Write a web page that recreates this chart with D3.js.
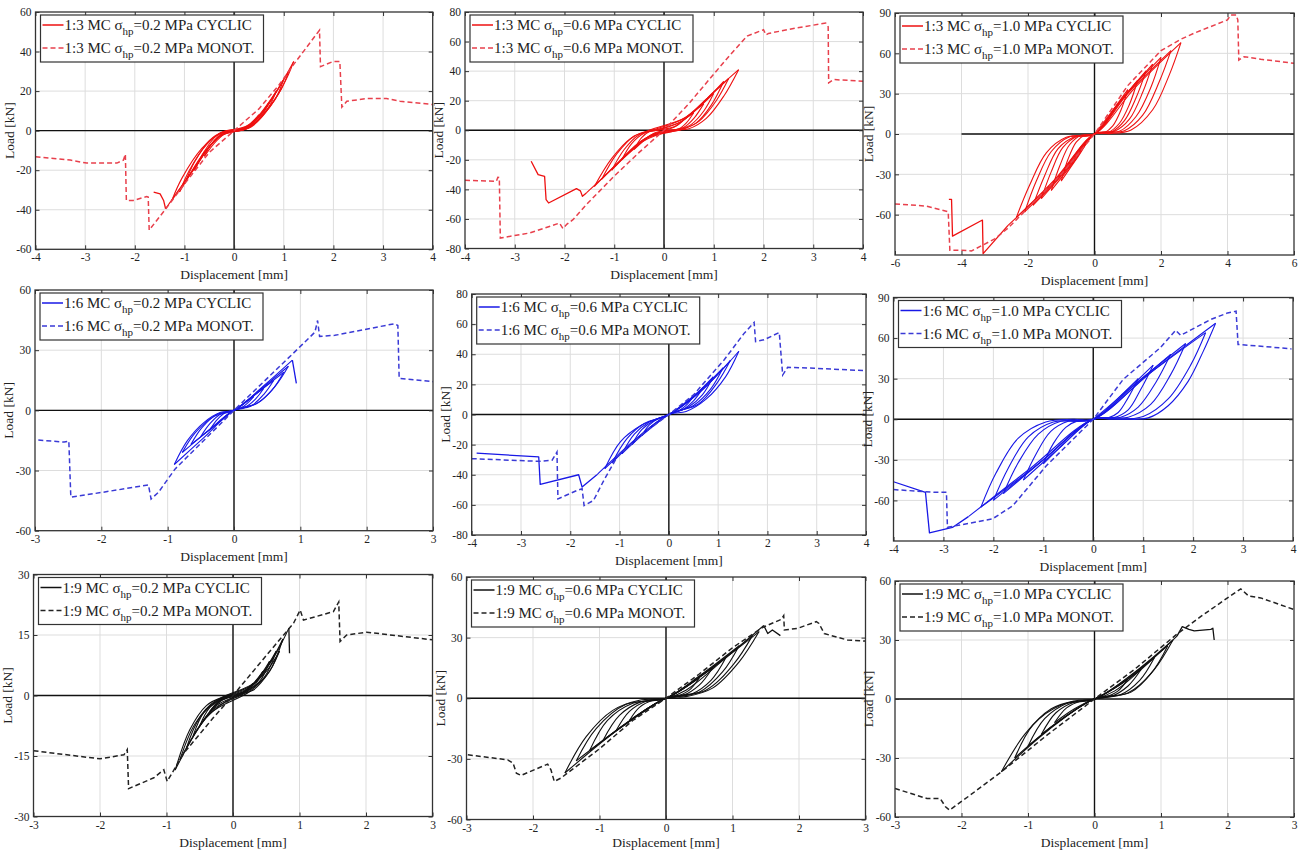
<!DOCTYPE html>
<html>
<head>
<meta charset="utf-8">
<script src="https://cdn.jsdelivr.net/npm/d3@7"></script>
<style>
  body { margin: 0; background: #fff; }
  svg { display: block; }
  text { font-family: "Liberation Serif", "Times New Roman", serif; fill: #222; }
</style>
</head>
<body>
<svg id="fig" width="1303" height="850"></svg>
<script>
// ---------------- Tick values ----------------
const ticksX4 = [-4, -3, -2, -1, 0, 1, 2, 3, 4];
const ticksX6 = [-6, -4, -2, 0, 2, 4, 6];
const ticksX3 = [-3, -2, -1, 0, 1, 2, 3];
const ticksY60by20 = [-60, -40, -20, 0, 20, 40, 60];
const ticksY80by20 = [-80, -60, -40, -20, 0, 20, 40, 60, 80];
const ticksY90by30 = [-60, -30, 0, 30, 60, 90];
const ticksY60by30 = [-60, -30, 0, 30, 60];
const ticksY30by15 = [-30, -15, 0, 15, 30];

// ---------------- Series: load [kN] vs displacement [mm] ----------------
// 1:3 masonry, 0.2 MPa
const cyc13_02 = [
  [0,0],[0.15,0.8],[0.3,3],[0.5,8],[0.4,4.5],[0.25,1.2],[0.1,0.2],[-0.15,-1],[-0.35,-5],[-0.6,-13],[-0.45,-6.5],[-0.25,-1.5],[-0.05,0],
  [0.2,1],[0.45,5.5],[0.7,14],[0.55,7.5],[0.35,2.5],[0.15,0.3],[-0.2,-1.2],[-0.5,-8],[-0.8,-20],[-0.6,-10.5],[-0.35,-2.5],[-0.1,0],
  [0.2,1],[0.5,7],[0.85,20],[0.7,12],[0.45,4.5],[0.2,0.6],[-0.2,-1.5],[-0.6,-11],[-1.0,-27],[-0.8,-16],[-0.5,-5],[-0.2,-0.3],
  [0.25,1.5],[0.6,10],[1.0,26],[0.85,17],[0.55,7],[0.25,1],[-0.25,-2],[-0.7,-15],[-1.1,-31],[-0.9,-20],[-0.55,-7],[-0.25,-1],
  [0.3,2.5],[0.7,14],[1.1,30],[0.95,21],[0.65,10],[0.3,1.5],[-0.3,-3],[-0.8,-19],[-1.25,-35],[-1.05,-24],[-0.65,-9],[-0.3,-1.5],
  [0.3,3],[0.8,18],[1.2,35],[1.05,26],[0.75,13],[0.35,2],[-0.3,-3],[-0.85,-21],[-1.38,-39.5]
];
const cyc13_02Post = [[-1.38,-39.5],[-1.42,-35.3],[-1.49,-32],[-1.62,-31.1]];
const mono13_02 = [
  [-4,-13.2],[-3.3,-14.9],[-2.97,-16.4],[-2.36,-16.4],[-2.23,-14.9],[-2.19,-11.9],[-2.17,-35.3],[-2.03,-35.3],
  [-1.76,-33.3],[-1.73,-33.6],[-1.71,-50.3],[-1.36,-39],[-1.0,-27],[-0.5,-11],[0,0],[0.5,11],[0.9,23],[1.23,34.5],
  [1.72,50.8],[1.74,32.4],[2.0,35],[2.13,35],[2.17,11.9],[2.27,14.9],[2.67,16.2],[3.07,16.2],[3.34,14.9],[4,13.2]
];

// 1:3 masonry, 0.6 MPa
const cyc13_06 = [
  [0,0],[0.2,2],[0.4,7],[0.6,12],[0.45,5],[0.3,1],[0.1,0],[-0.2,-2],[-0.4,-7],[-0.6,-13],[-0.45,-5],[-0.3,-1],[-0.1,0],
  [0.25,3],[0.5,10],[0.8,18],[0.6,8],[0.4,2],[0.15,0],[-0.25,-3],[-0.55,-11],[-0.85,-20],[-0.65,-9],[-0.4,-2],[-0.15,0],
  [0.3,5],[0.65,14],[1.0,25],[0.8,13],[0.55,4],[0.3,0.5],[-0.3,-4],[-0.7,-15],[-1.05,-27],[-0.8,-13],[-0.5,-3],[-0.2,0],
  [0.35,6],[0.8,19],[1.2,33],[0.95,17],[0.65,5],[0.35,0.5],[-0.35,-5],[-0.8,-18],[-1.25,-33],[-0.95,-16],[-0.6,-4],[-0.25,0],
  [0.4,8],[0.85,21],[1.3,35],[1.05,20],[0.7,6],[0.4,1],[-0.4,-6],[-0.9,-21],[-1.4,-38],[-1.05,-19],[-0.65,-5],[-0.3,0],
  [0.45,9],[1.0,26],[1.5,41],[1.2,23],[0.85,8],[0.5,1],[0.2,0],[-0.45,-8],[-1.0,-25],[-1.56,-42.4]
];
const cyc13_06Post = [[-1.56,-42.4],[-1.64,-44.7],[-1.68,-41],[-1.76,-39.5],[-2.32,-49.2],[-2.37,-47],[-2.4,-31.2],[-2.53,-30],[-2.67,-21]];
const mono13_06 = [
  [-4,-33.9],[-3.37,-34.5],[-3.34,-31.8],[-3.31,-32],[-3.29,-72.9],[-2.7,-69.5],[-2.1,-62.8],[-2.03,-66.5],[-1.95,-63.5],
  [-1.83,-60.5],[-1.56,-50.3],[-1.0,-31],[-0.5,-15],[0,0],[0.5,18],[1.0,38],[1.33,51],[1.67,63.7],[2.0,68],[2.05,64.5],
  [2.1,65.5],[2.68,69.3],[3.25,72.5],[3.3,70],[3.31,32],[3.41,34.3],[4,33.2]
];

// 1:3 masonry, 1.0 MPa
const cyc13_10 = [
  [0,0],[0.5,16],[1.0,33],[0.8,18],[0.55,6],[0.3,1],[0,0],[-0.5,-17],[-1.0,-35],[-0.8,-19],[-0.55,-6],[-0.3,-1],[0,0],
  [0.6,19],[1.3,40],[1.05,22],[0.75,8],[0.4,1],[0,0],[-0.6,-20],[-1.3,-42],[-1.05,-24],[-0.75,-8],[-0.4,-1],[0,0],
  [0.7,22],[1.55,47],[1.25,27],[0.9,10],[0.5,1.5],[0,0],[-0.75,-24],[-1.6,-48],[-1.3,-28],[-0.95,-10],[-0.5,-1.5],[0,0],
  [0.8,25],[1.75,52],[1.45,31],[1.05,11],[0.6,2],[0,0],[-0.9,-28],[-1.85,-53],[-1.5,-31],[-1.1,-11],[-0.6,-2],[0,0],
  [0.9,28],[2.0,57],[1.7,35],[1.25,13],[0.75,2],[0,0],[-1.0,-30],[-2.1,-58],[-1.75,-35],[-1.3,-13],[-0.75,-2],[0,0],
  [1.0,30],[2.3,62],[1.95,39],[1.45,14],[0.9,2.5],[0,0],[-1.1,-32],[-2.35,-62],[-1.95,-38],[-1.45,-14],[-0.85,-2.5],[0,0],
  [1.2,34],[2.6,68],[2.25,44],[1.75,18],[1.1,3],[0.45,0.3],[0,0],[-1.2,-34],[-2.6,-68]
];
const cyc13_10Post = [[-2.6,-68],[-3.35,-89],[-3.37,-64],[-4.27,-76],[-4.3,-48.6],[-4.38,-48.6]];
const mono13_10 = [
  [-6,-52],[-5.06,-53.6],[-4.4,-57.8],[-4.35,-86.4],[-4.05,-86.4],[-3.7,-87],[-3.0,-78],[-2.6,-70],[-2.0,-55],[-1.0,-30],
  [0,0],[1.0,36],[2.0,62],[2.6,70.5],[3.0,75],[4.0,84.9],[4.1,88.6],[4.26,88.6],[4.31,84.9],[4.34,55],[4.5,57.5],[5.0,55.6],[6,52.6]
];

// 1:6 masonry, 0.2 MPa
const cyc16_02 = [
  [0,0],[0.15,3.5],[0.3,7],[0.2,3.5],[0.1,1],[0,0],[-0.17,-4.5],[-0.35,-9],[-0.25,-4.5],[-0.12,-1],[0,0],
  [0.22,5.5],[0.45,11],[0.32,5.5],[0.15,1.2],[0,0],[-0.25,-6.5],[-0.5,-13],[-0.36,-6.5],[-0.18,-1.5],[0,0],
  [0.3,7.5],[0.6,15],[0.45,8],[0.25,2],[0,0],[-0.32,-8.5],[-0.65,-17],[-0.48,-8.5],[-0.25,-2],[0,0],
  [0.38,9.5],[0.75,19],[0.57,10],[0.32,3],[0,0],[-0.4,-10.5],[-0.78,-21],[-0.58,-11],[-0.3,-3],[0,0],
  [0.42,11],[0.82,22],[0.62,12],[0.35,3.5],[0,0],[-0.45,-13.5],[-0.9,-27],[-0.7,-15],[-0.45,-6],[-0.2,-1],[0,0],[0.44,12],[0.88,25]
];
const cyc16_02Post = [[0.88,25],[0.94,13.5]];
const mono16_02 = [
  [-2.95,-14.8],[-2.56,-15.8],[-2.49,-15.3],[-2.46,-43.3],[-1.99,-40.9],[-1.29,-37.2],[-1.25,-44.2],[-1.14,-40.9],
  [-0.89,-29.3],[0,0],[1.02,32.5],[1.22,39],[1.26,44.8],[1.29,36.9],[1.52,37.4],[2.42,43.2],[2.47,42.3],[2.49,16],[3,14.3]
];

// 1:6 masonry, 0.6 MPa
const cyc16_06 = [
  [0,0],[0.25,5],[0.5,12],[0.35,6],[0.2,2.5],[0,0],[-0.25,-6],[-0.55,-14],[-0.4,-7],[-0.2,-2.5],[0,0],
  [0.3,7],[0.7,18],[0.5,9],[0.3,3.5],[0,0],[-0.35,-8],[-0.75,-20],[-0.55,-10],[-0.3,-4],[0,0],
  [0.4,9],[0.9,25],[0.68,13],[0.4,5],[0,0],[-0.45,-11],[-0.95,-26],[-0.7,-13],[-0.4,-5],[0,0],
  [0.5,12],[1.1,31],[0.85,17],[0.5,6],[0,0],[-0.55,-13],[-1.15,-32],[-0.85,-16],[-0.5,-6],[0,0],
  [0.6,14],[1.25,36],[0.98,21],[0.6,7],[0,0],[-0.6,-15],[-1.3,-36],[-0.98,-18],[-0.55,-7],[0,0],
  [0.7,17],[1.42,42],[1.15,25],[0.75,10],[0.35,2],[0,0],[-0.7,-17],[-1.46,-40]
];
const cyc16_06Post = [[-1.46,-40],[-1.76,-48.2],[-1.83,-40],[-2.61,-46.4],[-2.64,-28.2],[-3.9,-25.6]];
const mono16_06 = [
  [-4,-29.3],[-2.64,-31.1],[-2.37,-30.4],[-2.27,-24.9],[-2.25,-56],[-1.86,-50.4],[-1.76,-49.3],[-1.72,-60.4],[-1.53,-57.1],
  [-1.32,-43.8],[-1.05,-28.2],[-0.5,-12],[0,0],[0.5,13],[1.12,36.2],[1.53,54],[1.73,61.1],[1.76,48.4],[1.93,49.6],
  [2.24,54.4],[2.31,26.2],[2.41,31.3],[2.95,30.7],[4,29.1]
];

// 1:6 masonry, 1.0 MPa
const cyc16_10 = [
  [0,0],[0.45,14],[0.9,30],[0.7,16],[0.5,5],[0.3,1],[0,0],[-0.5,-15],[-1.0,-33],[-0.8,-18],[-0.55,-6],[-0.3,-1],[0,0],
  [0.6,19],[1.2,40],[0.95,22],[0.7,7],[0.4,1],[0,0],[-0.7,-22],[-1.4,-45],[-1.15,-26],[-0.85,-9],[-0.5,-1.5],[0,0],
  [0.75,23],[1.55,48],[1.25,27],[0.9,9],[0.55,1.5],[0,0],[-0.9,-27],[-1.8,-55],[-1.5,-32],[-1.1,-11],[-0.65,-1.5],[0,0],
  [0.9,28],[1.85,56],[1.55,33],[1.15,11],[0.7,1.5],[0,0],[-1.0,-30],[-2.0,-60],[-1.7,-36],[-1.3,-13],[-0.8,-2],[0,0],
  [1.1,33],[2.25,64],[1.95,40],[1.5,15],[1.0,2],[0.4,0],[0,0],[-1.1,-33],[-2.25,-65],[-1.95,-40],[-1.5,-14],[-0.95,-2],[-0.4,0],[0,0],
  [1.2,36],[2.45,71],[2.2,50],[1.9,28],[1.5,10],[1.1,1],[0.6,0],[0,0],[-1.25,-36],[-2.5,-72]
];
const cyc16_10Post = [[-2.5,-72],[-2.82,-80],[-3.28,-84],[-3.36,-54],[-4,-46.2]];
const mono16_10 = [
  [-4,-52],[-3.16,-54],[-2.94,-54],[-2.92,-79.9],[-2.02,-73.7],[-1.61,-63.9],[-0.94,-34.4],[0,0],[0.6,29.5],[1.34,52.8],
  [1.65,65.8],[1.75,62],[2.35,73.7],[2.69,78.6],[2.86,79.9],[2.9,55.3],[3.36,54],[3.97,52]
];

// 1:9 masonry, 0.2 MPa
const cyc19_02 = [
  [0,0],[0.15,0.8],[0.3,3],[0.2,1.2],[0.05,0.1],[-0.15,-1],[-0.35,-4],[-0.22,-1.5],[-0.05,-0.1],
  [0.2,1.3],[0.45,6],[0.32,2.5],[0.1,0.3],[-0.2,-1.5],[-0.5,-7.5],[-0.35,-3],[-0.1,-0.3],
  [0.25,2],[0.55,8.5],[0.4,3.5],[0.15,0.5],[-0.25,-2.5],[-0.6,-10],[-0.43,-4],[-0.15,-0.5],
  [0.3,2.8],[0.65,11],[0.47,4.5],[0.2,0.8],[-0.3,-3.5],[-0.7,-13],[-0.5,-5.5],[-0.2,-0.8],
  [0.35,3.5],[0.75,14],[0.55,6],[0.25,1],[-0.35,-4.5],[-0.8,-16],[-0.57,-7],[-0.25,-1.2],
  [0.1,0.3],[0.5,6],[0.7,11],[0.55,6],[0.3,1.3],[0.05,0],[-0.4,-5.5],[-0.87,-18.5],[-0.65,-8.5],[-0.4,-2.5],[-0.15,-0.4],
  [0.1,0.3],[0.4,4.5],[0.65,10.5],[0.84,16.7]
];
const cyc19_02Post = [[0.84,16.7],[0.85,10.5]];
const mono19_02 = [
  [-3,-13.7],[-2.5,-14.7],[-2.0,-15.7],[-1.64,-14.7],[-1.59,-13.4],[-1.57,-23.1],[-1.19,-20.4],[-1.04,-18.4],[-0.99,-21.3],
  [-0.74,-14.3],[-0.3,-5.6],[0,0],[0.51,10.1],[0.91,17.9],[1.01,21.2],[1.06,18.7],[1.51,20.8],[1.59,23.2],[1.61,13.4],
  [1.71,15],[2.01,15.7],[3,13.8]
];

// 1:9 masonry, 0.6 MPa
const cyc19_06 = [
  [0,0],[0.25,4.5],[0.5,10],[0.35,4],[0.15,0.8],[0,0],[-0.25,-4.5],[-0.55,-11],[-0.4,-4.5],[-0.2,-1],[0,0],
  [0.3,6],[0.7,15],[0.5,6.5],[0.25,1.3],[0,0],[-0.3,-6],[-0.75,-16],[-0.55,-6.5],[-0.28,-1.2],[0,0],
  [0.4,8],[0.9,20],[0.68,9],[0.38,2],[0,0],[-0.4,-8],[-0.95,-21],[-0.7,-8.5],[-0.38,-1.8],[0,0],
  [0.5,11],[1.1,26],[0.85,13],[0.5,3],[0,0],[-0.5,-10],[-1.15,-26],[-0.88,-11],[-0.5,-2.5],[0,0],
  [0.6,13],[1.3,31],[1.02,17],[0.6,4],[0,0],[-0.6,-12.5],[-1.35,-31],[-1.05,-15],[-0.6,-3],[0,0],
  [0.65,14],[1.4,33],[1.1,18],[0.7,5],[0.3,0.8],[0,0],[-0.7,-15],[-1.52,-37],[-1.2,-19],[-0.8,-6],[-0.4,-1],[0,0],
  [0.3,4],[0.9,20],[1.47,36]
];
const cyc19_06Post = [[1.47,36],[1.53,32],[1.6,33.8],[1.72,31]];
const mono19_06 = [
  [-2.98,-28],[-2.38,-30.5],[-2.3,-32.1],[-2.25,-37.1],[-2.18,-38.2],[-1.78,-32.6],[-1.73,-35.4],[-1.68,-41.2],[-1.58,-39.5],
  [-1.0,-25],[-0.5,-11],[0,0],[0.5,12],[1.0,25],[1.45,35],[1.73,39],[1.77,40.9],[1.78,33.8],[1.98,34.6],[2.26,37.9],
  [2.3,37],[2.38,32],[2.73,28.8],[3,28.3]
];

// 1:9 masonry, 1.0 MPa
const cyc19_10 = [
  [0,0],[0.25,4.5],[0.5,10],[0.35,4],[0.15,0.8],[0,0],[-0.3,-5],[-0.6,-12],[-0.42,-4.5],[-0.2,-1],[0,0],
  [0.35,6.5],[0.7,15],[0.5,6.5],[0.25,1.3],[0,0],[-0.4,-8],[-0.8,-18],[-0.58,-7],[-0.3,-1.5],[0,0],
  [0.45,9],[0.9,21],[0.68,9.5],[0.38,2],[0,0],[-0.5,-10.5],[-1.0,-24],[-0.75,-10],[-0.4,-2],[0,0],
  [0.55,12],[1.1,27],[0.85,13],[0.5,3],[0,0],[-0.6,-13],[-1.2,-30],[-0.92,-13],[-0.5,-3],[0,0],
  [0.6,13.5],[1.18,30],[0.9,15],[0.55,3.5],[0,0],[-0.7,-16],[-1.4,-37],[-1.05,-18],[-0.65,-5],[-0.3,-1],[0,0],
  [0.3,4],[0.7,15],[1.24,32]
];
const cyc19_10Post = [[1.24,32],[1.32,36.8],[1.42,35.4],[1.5,34.6],[1.75,35.4],[1.78,36],[1.8,30]];
const mono19_10 = [
  [-3,-45.5],[-2.52,-50.6],[-2.32,-50.6],[-2.24,-54.8],[-2.18,-56.5],[-1.87,-48.9],[-1.4,-37],[-0.7,-18],[0,0],
  [0.6,15],[1.24,33],[1.6,42],[2.0,51.4],[2.2,56],[2.32,52.3],[2.5,51.4],[3,45.5]
];

// ---------------- Panel definitions ----------------
const seriesColors = {
  red:   { cyc: "#ee1111", mono: "#e8404c" },
  blue:  { cyc: "#1818e6", mono: "#3a3ad6" },
  black: { cyc: "#111111", mono: "#222222" }
};

const panels = [
  { ratio: "1:3", stress: "0.2", color: "red",   xDomain: [-4, 4], yDomain: [-60, 60], xTicks: ticksX4, yTicks: ticksY60by20, cyc: cyc13_02, post: cyc13_02Post, mono: mono13_02, box: { left: 35.5, right: 432.7, top: 12, bottom: 249.3 } },
  { ratio: "1:3", stress: "0.6", color: "red",   xDomain: [-4, 4], yDomain: [-80, 80], xTicks: ticksX4, yTicks: ticksY80by20, cyc: cyc13_06, post: cyc13_06Post, mono: mono13_06, box: { left: 465, right: 863, top: 12, bottom: 248.5 } },
  { ratio: "1:3", stress: "1.0", color: "red",   xDomain: [-6, 6], yDomain: [-90, 90], xTicks: ticksX6, yTicks: ticksY90by30, cyc: cyc13_10, post: cyc13_10Post, mono: mono13_10, box: { left: 895, right: 1294, top: 13, bottom: 255 }, zeroFrom: -4 },
  { ratio: "1:6", stress: "0.2", color: "blue",  xDomain: [-3, 3], yDomain: [-60, 60], xTicks: ticksX3, yTicks: ticksY60by30, cyc: cyc16_02, post: cyc16_02Post, mono: mono16_02, box: { left: 35, right: 433, top: 290, bottom: 530.7 } },
  { ratio: "1:6", stress: "0.6", color: "blue",  xDomain: [-4, 4], yDomain: [-80, 80], xTicks: ticksX4, yTicks: ticksY80by20, cyc: cyc16_06, post: cyc16_06Post, mono: mono16_06, box: { left: 471.7, right: 866, top: 294, bottom: 535 } },
  { ratio: "1:6", stress: "1.0", color: "blue",  xDomain: [-4, 4], yDomain: [-90, 90], xTicks: ticksX4, yTicks: ticksY90by30, cyc: cyc16_10, post: cyc16_10Post, mono: mono16_10, box: { left: 893.5, right: 1293, top: 297.5, bottom: 541 } },
  { ratio: "1:9", stress: "0.2", color: "black", xDomain: [-3, 3], yDomain: [-30, 30], xTicks: ticksX3, yTicks: ticksY30by15, cyc: cyc19_02, post: cyc19_02Post, mono: mono19_02, box: { left: 33.5, right: 432.5, top: 574.5, bottom: 816.5 } },
  { ratio: "1:9", stress: "0.6", color: "black", xDomain: [-3, 3], yDomain: [-60, 60], xTicks: ticksX3, yTicks: ticksY60by30, cyc: cyc19_06, post: cyc19_06Post, mono: mono19_06, box: { left: 466.5, right: 865.5, top: 577, bottom: 819.5 } },
  { ratio: "1:9", stress: "1.0", color: "black", xDomain: [-3, 3], yDomain: [-60, 60], xTicks: ticksX3, yTicks: ticksY60by30, cyc: cyc19_10, post: cyc19_10Post, mono: mono19_10, box: { left: 895, right: 1294, top: 581, bottom: 817 } }
];

// Break a hysteresis path into branches at every load reversal, so the
// smoothing curve keeps the reversal points sharp.
function branchesOf(pts) {
  const out = [];
  let cur = [pts[0]], dir = 0;
  for (let i = 1; i < pts.length; i++) {
    const d = Math.sign(pts[i][0] - pts[i - 1][0]);
    if (dir !== 0 && d !== 0 && d !== dir) { out.push(cur); cur = [pts[i - 1]]; }
    if (d !== 0) dir = d;
    cur.push(pts[i]);
  }
  out.push(cur);
  return out;
}

const serif = '"Liberation Serif", "Times New Roman", serif';
const svg = d3.select("#fig");
const figHeight = 850;

panels.forEach((p, i) => {
  const b = p.box;
  const x = d3.scaleLinear().domain(p.xDomain).range([b.left, b.right]);
  const y = d3.scaleLinear().domain(p.yDomain).range([b.bottom, b.top]);
  const col = seriesColors[p.color];
  const g = svg.append("g");

  g.append("clipPath").attr("id", "clip" + i)
    .append("rect").attr("x", b.left).attr("y", b.top)
    .attr("width", b.right - b.left).attr("height", b.bottom - b.top);

  g.append("rect").attr("x", b.left).attr("y", b.top)
    .attr("width", b.right - b.left).attr("height", b.bottom - b.top).attr("fill", "#fff");

  // grid
  g.append("g").selectAll("line").data(p.xTicks.filter(t => t > p.xDomain[0] && t < p.xDomain[1])).join("line")
    .attr("x1", d => x(d)).attr("x2", d => x(d)).attr("y1", b.top).attr("y2", b.bottom)
    .attr("stroke", "#dddddd").attr("stroke-width", 1);
  g.append("g").selectAll("line").data(p.yTicks.filter(t => t > p.yDomain[0] && t < p.yDomain[1])).join("line")
    .attr("y1", d => y(d)).attr("y2", d => y(d)).attr("x1", b.left).attr("x2", b.right)
    .attr("stroke", "#dddddd").attr("stroke-width", 1);

  // zero axes
  g.append("line").attr("x1", x(0)).attr("x2", x(0)).attr("y1", b.top).attr("y2", b.bottom)
    .attr("stroke", "#111").attr("stroke-width", 1.4);
  g.append("line").attr("x1", x(p.zeroFrom !== undefined ? p.zeroFrom : p.xDomain[0])).attr("x2", b.right)
    .attr("y1", y(0)).attr("y2", y(0)).attr("stroke", "#111").attr("stroke-width", 1.4);

  const plot = g.append("g").attr("clip-path", `url(#clip${i})`);
  const smooth = d3.line().x(d => x(d[0])).y(d => y(d[1])).curve(d3.curveCatmullRom.alpha(0.5));
  const straight = d3.line().x(d => x(d[0])).y(d => y(d[1]));

  // cyclic test
  plot.append("g").selectAll("path").data(branchesOf(p.cyc)).join("path")
    .attr("d", smooth).attr("fill", "none").attr("stroke", col.cyc).attr("stroke-width", 1.1)
    .attr("stroke-linejoin", "round");
  plot.append("path").attr("d", straight(p.post)).attr("fill", "none")
    .attr("stroke", col.cyc).attr("stroke-width", 1.3).attr("stroke-linejoin", "round");

  // monotonic test
  plot.append("path").attr("d", straight(p.mono)).attr("fill", "none")
    .attr("stroke", col.mono).attr("stroke-width", 1.5).attr("stroke-dasharray", "5,3");

  // frame
  g.append("rect").attr("x", b.left).attr("y", b.top)
    .attr("width", b.right - b.left).attr("height", b.bottom - b.top)
    .attr("fill", "none").attr("stroke", "#333").attr("stroke-width", 1.3);

  // inward tick marks
  const tickStyle = s => { s.select(".domain").remove(); s.selectAll("line").attr("stroke", "#333"); };
  g.append("g").attr("transform", `translate(0,${b.bottom})`)
    .call(d3.axisBottom(x).tickValues(p.xTicks).tickSize(-4).tickFormat("")).call(tickStyle);
  g.append("g").attr("transform", `translate(0,${b.top})`)
    .call(d3.axisTop(x).tickValues(p.xTicks).tickSize(-4).tickFormat("")).call(tickStyle);
  g.append("g").attr("transform", `translate(${b.left},0)`)
    .call(d3.axisLeft(y).tickValues(p.yTicks).tickSize(-4).tickFormat("")).call(tickStyle);
  g.append("g").attr("transform", `translate(${b.right},0)`)
    .call(d3.axisRight(y).tickValues(p.yTicks).tickSize(-4).tickFormat("")).call(tickStyle);

  // tick labels
  const xa = g.append("g").attr("transform", `translate(0,${b.bottom})`)
    .call(d3.axisBottom(x).tickValues(p.xTicks).tickSize(0).tickPadding(4).tickFormat(d => String(d)));
  xa.select(".domain").remove();
  xa.selectAll("text").attr("font-size", 11.5).style("font-family", serif).attr("fill", "#222");
  const ya = g.append("g").attr("transform", `translate(${b.left},0)`)
    .call(d3.axisLeft(y).tickValues(p.yTicks).tickSize(0).tickPadding(4).tickFormat(d => String(d)));
  ya.select(".domain").remove();
  ya.selectAll("text").attr("font-size", 11.5).style("font-family", serif).attr("fill", "#222");

  // axis titles (kept inside the figure for the bottom row)
  g.append("text").attr("x", (b.left + b.right) / 2).attr("y", Math.min(b.bottom + 30, figHeight - 3.5))
    .attr("text-anchor", "middle").attr("font-size", 13.5).style("font-family", serif).text("Displacement [mm]");
  g.append("text").attr("transform", `translate(${b.left - 22},${(b.top + b.bottom) / 2}) rotate(-90)`)
    .attr("text-anchor", "middle").attr("font-size", 13.5).style("font-family", serif).text("Load [kN]");

  // legend
  const lg = g.append("g").attr("transform", `translate(${b.left + 5},${b.top + 3})`);
  lg.append("rect").attr("width", 223).attr("height", 47).attr("fill", "#fff")
    .attr("stroke", "#333").attr("stroke-width", 1.2);
  const rows = [
    { kind: "CYCLIC", stroke: col.cyc, dash: null, yy: 10 },
    { kind: "MONOT.", stroke: col.mono, dash: "5,3", yy: 33 }
  ];
  rows.forEach(r => {
    lg.append("line").attr("x1", 2).attr("x2", 23).attr("y1", r.yy).attr("y2", r.yy)
      .attr("stroke", r.stroke).attr("stroke-width", 1.5).attr("stroke-dasharray", r.dash);
    const t = lg.append("text").attr("x", 24).attr("y", r.yy + 5).attr("font-size", 15).style("font-family", serif);
    t.append("tspan").text(`${p.ratio} MC \u03c3`);
    t.append("tspan").attr("dy", 5).attr("font-size", 11).text("hp");
    t.append("tspan").attr("dy", -5).text(`=${p.stress} MPa ${r.kind}`);
  });
});
</script>
</body>
</html>
